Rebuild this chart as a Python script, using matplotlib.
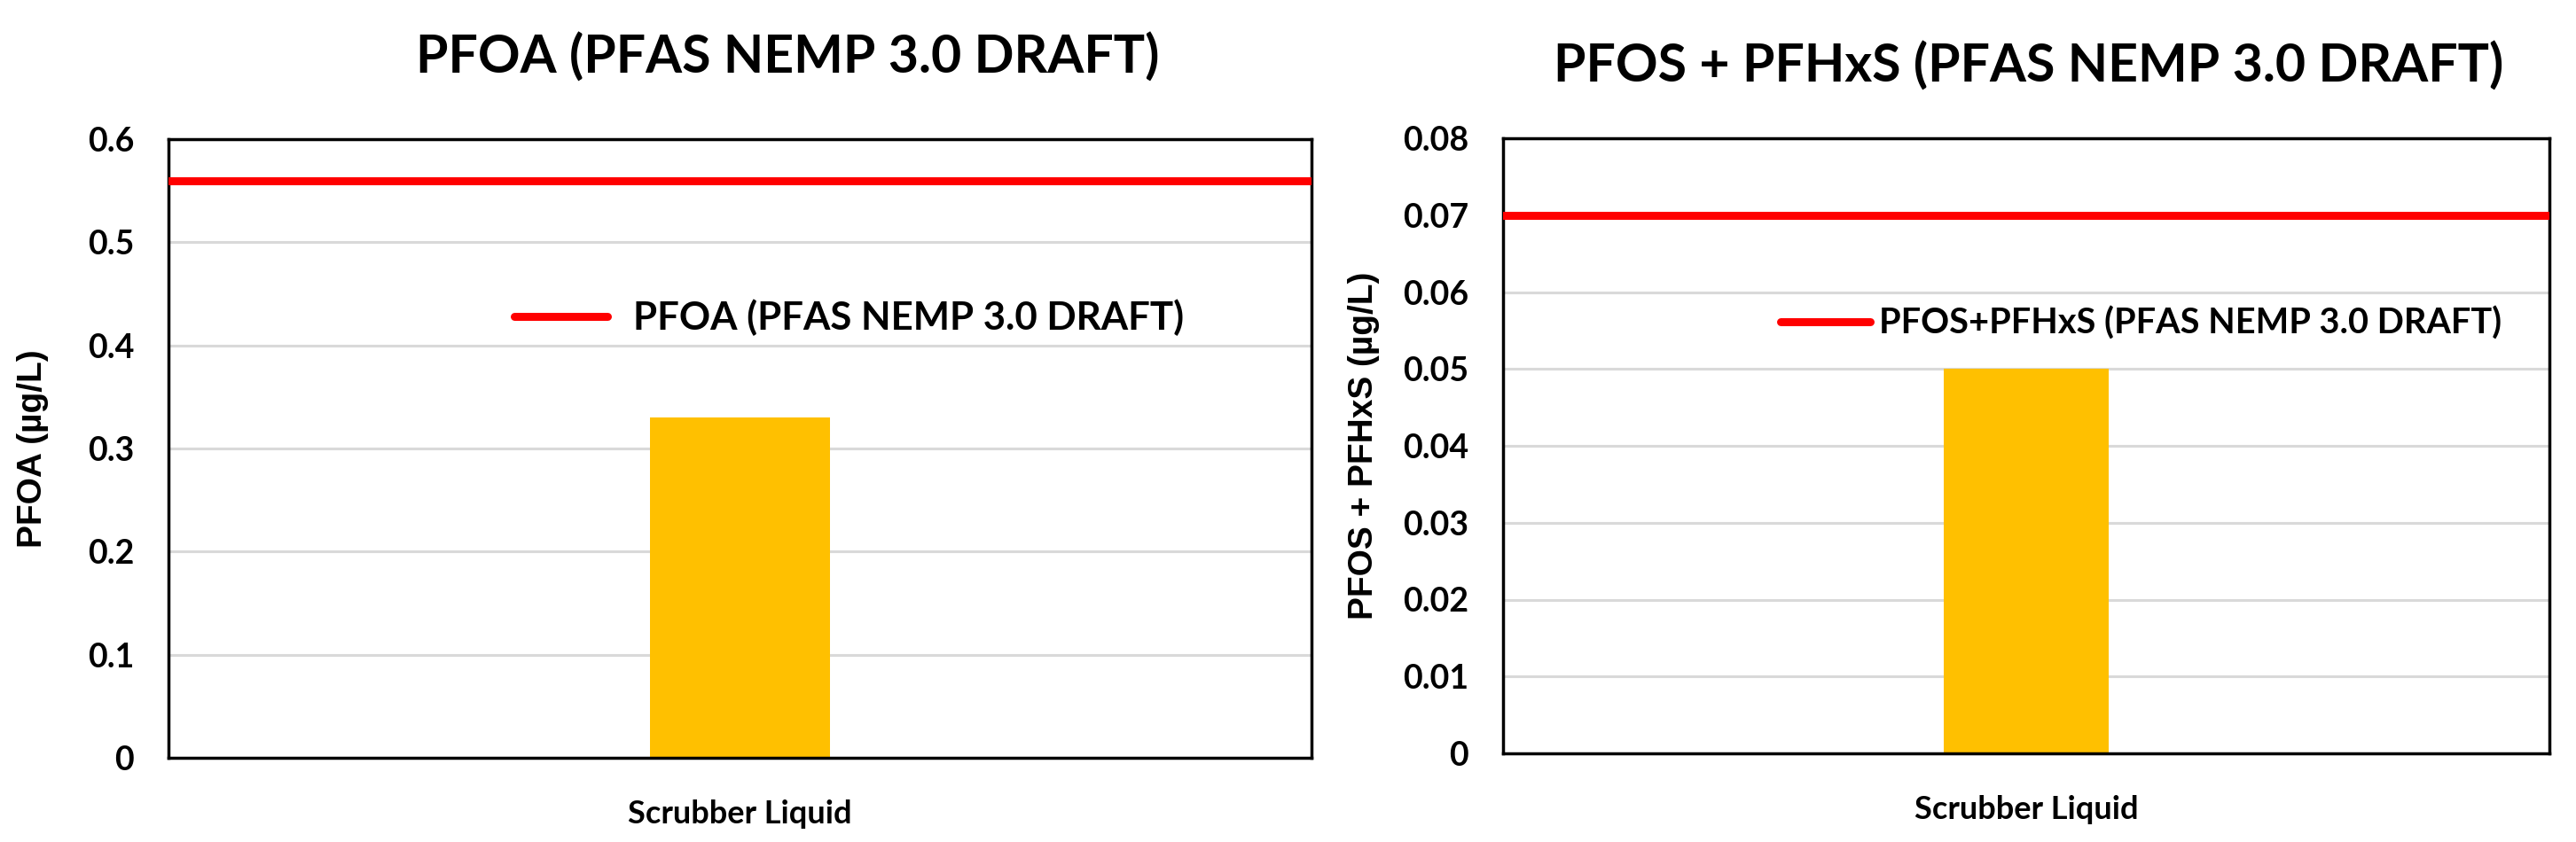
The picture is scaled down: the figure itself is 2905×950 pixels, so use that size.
import numpy as np
import matplotlib
matplotlib.use("Agg")
import matplotlib.pyplot as plt

# data
category = ["Scrubber Liquid"]
pfoa_values = [0.33]
pfoa_limit = 0.56
pfos_values = [0.05]
pfos_limit = 0.07

pfoa_ticks = [0, 0.1, 0.2, 0.3, 0.4, 0.5, 0.6]
pfos_ticks = [0, 0.01, 0.02, 0.03, 0.04, 0.05, 0.06, 0.07, 0.08]

BAR = "#FFC000"
RED = "#FF0000"
GRID = "#D9D9D9"
MAIN_FONT = "Lato"
YLAB_FONT = "Liberation Sans"

fig = plt.figure(figsize=(29.05, 9.5), dpi=100)

ax1 = fig.add_axes([190 / 2905, 1 - 855 / 950, 1289 / 2905, 698 / 950])
ax2 = fig.add_axes([1695 / 2905, 1 - 850 / 950, 1180 / 2905, 694 / 950])


def style_panel(ax, vals, limit, ticks, tick_fmt, ylabel, title, title_xy,
                leg_label, leg_xy, leg_size, leg_hl, leg_pad, ylab_x):
    ax.set_axisbelow(True)
    ax.yaxis.grid(True, color=GRID, linewidth=2.2)
    ax.bar(np.arange(len(vals)), vals, width=0.157, color=BAR, zorder=2)
    ax.axhline(limit, color=RED, linewidth=6.5, zorder=3, label=leg_label)
    ax.set_xlim(-0.5, 0.5)
    ax.set_ylim(ticks[0], ticks[-1])
    ax.set_yticks(ticks)
    ax.set_yticklabels([tick_fmt(t) for t in ticks], family=MAIN_FONT,
                       fontweight="bold", fontsize=27)
    ax.set_xticks(np.arange(len(category)))
    ax.set_xticklabels(category, family=MAIN_FONT, fontweight="bold", fontsize=26)
    ax.tick_params(axis="both", length=0)
    ax.tick_params(axis="y", pad=28)
    ax.tick_params(axis="x", pad=34)
    for s in ax.spines.values():
        s.set_linewidth(2.5)
        s.set_color("black")
    ax.set_ylabel(ylabel, family=YLAB_FONT, fontweight="bold", fontsize=28)
    ax.yaxis.set_label_coords(ylab_x, 0.5)
    ax.text(title_xy[0], title_xy[1], title, transform=ax.transAxes,
            ha="center", va="center", family=MAIN_FONT, fontweight="bold",
            fontsize=42.5)
    leg = ax.legend(loc="center left", bbox_to_anchor=leg_xy, frameon=False,
                    borderpad=0, borderaxespad=0, handlelength=leg_hl,
                    handletextpad=leg_pad,
                    prop={"family": MAIN_FONT, "weight": "bold", "size": leg_size})
    for h in leg.legend_handles:
        h.set_solid_capstyle("round")


style_panel(ax1, pfoa_values, pfoa_limit, pfoa_ticks,
            lambda t: "0" if t == 0 else f"{t:.1f}",
            "PFOA (µg/L)", "PFOA (PFAS NEMP 3.0 DRAFT)", (0.542, 1.132),
            "PFOA (PFAS NEMP 3.0 DRAFT)", (0.3026, 0.712), 31.5, 2.4, 0.66, -0.105)

style_panel(ax2, pfos_values, pfos_limit, pfos_ticks,
            lambda t: "0" if t == 0 else f"{t:.2f}",
            "PFOS + PFHxS (µg/L)", "PFOS + PFHxS (PFAS NEMP 3.0 DRAFT)", (0.502, 1.118),
            "PFOS+PFHxS (PFAS NEMP 3.0 DRAFT)", (0.265, 0.699), 28.5, 2.55, 0.25, -0.118)

fig.savefig("out.png", dpi=100, facecolor="white")
